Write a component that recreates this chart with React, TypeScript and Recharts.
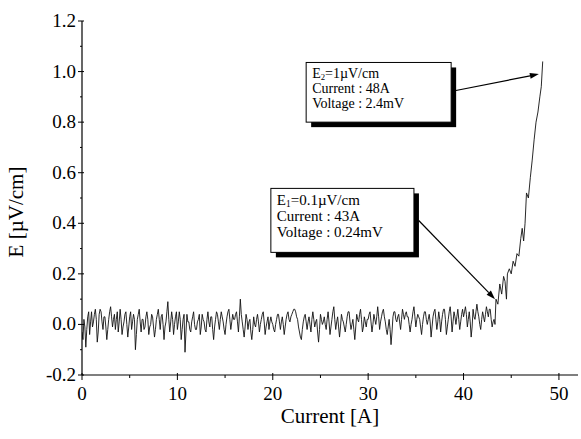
import React from 'react';
import { LineChart, Line, XAxis, YAxis, ReferenceArea, ReferenceLine } from 'recharts';

// Noise baseline: E [µV/cm] sampled every 0.1 A from 0 A
const noiseStartA = 0;
const noiseStepA = 0.1;
const noiseE = [
  -0.03, -0.06, 0.02, -0.01, -0.09, -0.02, 0.03, 0.05, -0.04, 0.01, 0.05, -0.01, 0.01, 0.04, 0.06, 0.02, -0.07, -0.03, 0.04, 0.06,
  0.05, 0.01, -0.02, 0.03, 0.03, -0.01, -0.06, -0.02, 0.02, 0.05, 0.07, 0.03, -0.01, 0.02, 0.04, -0.02, 0.02, 0.05, -0.03, 0.01,
  0.06, 0.02, -0.04, -0.01, 0.01, 0.04, 0.05, 0.0, -0.05, -0.01, 0.03, 0.05, -0.02, 0.01, 0.04, 0.02, -0.1, -0.04, 0.02, 0.04,
  0.06, 0.01, -0.03, 0.02, 0.02, -0.02, -0.01, 0.03, 0.05, 0.02, -0.04, -0.01, 0.0, 0.04, 0.03, -0.01, -0.05, -0.02, 0.02, 0.04,
  0.06, 0.02, -0.02, 0.03, 0.04, 0.0, -0.06, -0.01, 0.01, 0.05, 0.09, 0.02, -0.03, 0.01, 0.05, 0.02, -0.04, 0.0, 0.03, 0.05,
  -0.02, 0.01, 0.05, 0.02, -0.06, -0.02, 0.02, 0.04, -0.11, -0.03, 0.04, 0.01, 0.01, -0.02, -0.03, 0.01, 0.03, 0.05, 0.0, -0.02,
  -0.02, 0.01, 0.02, 0.04, -0.04, -0.01, 0.04, 0.02, 0.01, -0.02, -0.03, 0.02, 0.05, 0.01, -0.01, 0.03, 0.03, -0.02, -0.06, -0.01,
  0.02, 0.05, 0.04, 0.01, -0.02, 0.02, 0.05, 0.03, 0.01, -0.02, -0.04, 0.0, 0.03, 0.05, 0.06, 0.02, -0.02, 0.01, 0.04, 0.02,
  0.02, 0.04, 0.05, 0.01, -0.03, 0.03, 0.1, 0.04, 0.01, -0.02, -0.05, -0.01, 0.04, 0.02, -0.02, 0.01, 0.02, -0.03, -0.06, -0.02,
  0.03, 0.0, -0.01, 0.02, 0.04, 0.01, -0.03, 0.0, 0.02, 0.04, 0.05, 0.01, -0.04, -0.01, 0.01, 0.03, -0.02, 0.01, 0.03, 0.01,
  0.0, -0.02, -0.03, 0.0, 0.02, 0.04, 0.04, 0.01, -0.02, 0.01, 0.03, 0.0, -0.04, -0.01, 0.02, 0.04, 0.05, 0.02, 0.01, 0.03,
  0.04, 0.05, 0.06, 0.06, 0.05, 0.03, 0.02, -0.01, -0.03, -0.05, -0.06, -0.02, 0.01, 0.03, 0.04, 0.01, -0.02, 0.01, 0.03, 0.0,
  -0.03, 0.02, 0.05, 0.02, -0.01, 0.01, 0.02, -0.03, -0.07, -0.02, 0.04, 0.02, 0.0, 0.01, 0.03, 0.0, -0.02, 0.02, 0.05, 0.01,
  -0.04, -0.01, 0.02, 0.05, 0.07, 0.02, -0.02, 0.01, 0.03, -0.01, -0.05, -0.01, 0.04, 0.02, 0.01, -0.01, -0.03, 0.0, 0.03, 0.05,
  0.05, 0.01, -0.02, 0.0, 0.02, -0.02, -0.06, -0.01, 0.04, 0.02, 0.01, 0.04, 0.06, 0.02, -0.03, -0.01, 0.03, 0.01, -0.01, 0.02,
  0.02, 0.04, 0.05, 0.01, -0.03, 0.0, 0.04, 0.02, 0.0, 0.03, 0.07, 0.03, -0.02, 0.01, 0.03, 0.05, 0.06, 0.03, 0.01, -0.02,
  -0.04, -0.01, 0.02, -0.02, -0.08, -0.03, 0.03, 0.05, 0.05, 0.02, 0.01, 0.03, 0.04, 0.01, -0.02, 0.02, 0.06, 0.04, 0.02, 0.04,
  0.05, 0.03, 0.03, 0.0, -0.03, 0.0, 0.02, 0.05, 0.07, 0.03, -0.01, 0.02, 0.04, 0.03, 0.02, -0.01, -0.04, 0.0, 0.03, 0.05,
  0.05, 0.02, 0.0, 0.02, 0.04, 0.01, -0.05, -0.01, 0.03, 0.05, 0.06, 0.02, -0.02, 0.01, 0.05, 0.02, -0.03, 0.01, 0.04, 0.06,
  0.06, 0.02, -0.04, -0.01, 0.02, 0.05, 0.07, 0.03, -0.03, 0.01, 0.05, 0.03, 0.0, 0.03, 0.06, 0.02, -0.02, 0.01, 0.04, 0.06,
  0.03, 0.05, 0.07, 0.04, -0.01, 0.02, 0.05, 0.01, -0.05, -0.01, 0.06, 0.03, 0.02, 0.05, 0.08, 0.05, 0.03, 0.0, -0.02, 0.02,
  0.05, 0.03, 0.01, 0.04, 0.07, 0.05, 0.03, 0.06, 0.06, 0.02, -0.01, 0.01, 0.02,
];

// Transition region
const riseCurrent = [
  43.3, 43.4, 43.6, 43.8, 44.0, 44.2, 44.35, 44.5, 44.6, 44.8,
  45.0, 45.2, 45.4, 45.6, 45.8, 46.0, 46.15, 46.3, 46.45, 46.6,
  46.8, 47.0, 47.2, 47.4, 47.6, 47.8, 48.0, 48.15, 48.3,
];
const riseE = [
  0.0, 0.1, 0.08, 0.16, 0.12, 0.19, 0.17, 0.1, 0.2, 0.22,
  0.2, 0.25, 0.23, 0.28, 0.27, 0.34, 0.38, 0.33, 0.4, 0.52,
  0.5, 0.58, 0.65, 0.73, 0.8, 0.84, 0.9, 0.94, 1.04,
];

const xTicks = [0, 5, 10, 15, 20, 25, 30, 35, 40, 45, 50];
const yTicks = [-0.2, -0.1, 0, 0.1, 0.2, 0.3, 0.4, 0.5, 0.6, 0.7, 0.8, 0.9, 1.0, 1.1, 1.2];
const xDomain = [0, 52];
const yDomain = [-0.2, 1.2];

// Annotation points (Current A, E µV/cm)
const point2 = { x: 47.9, y: 0.99 };
const point1 = { x: 43.3, y: 0.1 };
const box2Lines = { sub: '2', head: '=1µV/cm', current: 'Current : 48A', voltage: 'Voltage : 2.4mV' };
const box1Lines = { sub: '1', head: '=0.1µV/cm', current: 'Current : 43A', voltage: 'Voltage : 0.24mV' };

const data = [
  ...noiseE.map((e, i) => ({ x: +(noiseStartA + i * noiseStepA).toFixed(2), y: e })),
  ...riseCurrent.map((c, i) => ({ x: c, y: riseE[i] })),
];

const FONT = '"Liberation Serif", "Times New Roman", serif';

const isMajorY = (v: number) => Math.round(v * 10) % 2 === 0;
const isMajorX = (v: number) => Math.round(v) % 10 === 0;

const LeftTick = (props: any) => {
  const { x, y, payload } = props;
  const v = payload.value;
  const major = isMajorY(v);
  return (
    <g>
      <line x1={x - (major ? 4 : 2)} x2={x + (major ? 2 : 0)} y1={y} y2={y} stroke="#000" strokeWidth={1} />
      {major && (
        <text x={x - 6} y={y + 6} textAnchor="end" fontSize={19} fontFamily={FONT} fill="#000">
          {v.toFixed(1)}
        </text>
      )}
    </g>
  );
};

const RightTick = (props: any) => {
  const { x, y, payload } = props;
  const major = isMajorY(payload.value);
  return <line x1={x - (major ? 5 : 3)} x2={x} y1={y} y2={y} stroke="#000" strokeWidth={1} />;
};

const BottomTick = (props: any) => {
  const { x, y, payload } = props;
  const v = payload.value;
  const major = isMajorX(v);
  return (
    <g>
      <line x1={x} x2={x} y1={y - (major ? 2 : 0)} y2={y + (major ? 5 : 3)} stroke="#000" strokeWidth={1} />
      {major && (
        <text x={x} y={y + 25} textAnchor="middle" fontSize={19} fontFamily={FONT} fill="#000">
          {String(v)}
        </text>
      )}
    </g>
  );
};

const TopTick = (props: any) => {
  const { x, y, payload } = props;
  const major = isMajorX(payload.value);
  return <line x1={x} x2={x} y1={y} y2={y + (major ? 5 : 3)} stroke="#000" strokeWidth={1} />;
};

const XTitle = (props: any) => {
  const vb = props.viewBox || { x: 82, y: 375, width: 496, height: 64 };
  return (
    <text x={vb.x + vb.width / 2} y={vb.y + 48} textAnchor="middle" fontSize={21} fontFamily={FONT} fill="#000">
      Current [A]
    </text>
  );
};

const YTitle = (props: any) => {
  const vb = props.viewBox || { x: 0, y: 21, width: 82, height: 354 };
  const cx = vb.x + 23;
  const cy = vb.y + vb.height / 2 + 14;
  return (
    <text x={cx} y={cy} transform={`rotate(-90, ${cx}, ${cy})`} textAnchor="middle" fontSize={21} fontFamily={FONT} fill="#000">
      E [µV/cm]
    </text>
  );
};

const makeBox = (lines: any, fontSize: number, lineGap: number) => (props: any) => {
  const { x, y, width, height } = props;
  const tx = x + 6;
  const ty = y + fontSize + 2;
  return (
    <g>
      <rect x={x + 5} y={y + 5} width={width} height={height} fill="#000" />
      <rect x={x} y={y} width={width} height={height} fill="#fff" stroke="#000" strokeWidth={1} />
      <text x={tx} y={ty} fontSize={fontSize} fontFamily={FONT} fill="#000">
        E<tspan fontSize={fontSize * 0.62} dy={2}>{lines.sub}</tspan>
        <tspan dy={-2}>{lines.head}</tspan>
      </text>
      <text x={tx} y={ty + lineGap} fontSize={fontSize} fontFamily={FONT} fill="#000">
        {lines.current}
      </text>
      <text x={tx} y={ty + lineGap * 2} fontSize={fontSize} fontFamily={FONT} fill="#000">
        {lines.voltage}
      </text>
    </g>
  );
};

const Arrow = (props: any) => {
  const { x1, y1, x2, y2 } = props;
  const dx = x2 - x1;
  const dy = y2 - y1;
  const len = Math.sqrt(dx * dx + dy * dy) || 1;
  const ux = dx / len;
  const uy = dy / len;
  const hl = 9;
  const hw = 3;
  const bx = x2 - ux * hl;
  const by = y2 - uy * hl;
  return (
    <g>
      <line x1={x1} y1={y1} x2={bx} y2={by} stroke="#000" strokeWidth={1.2} />
      <polygon
        points={`${x2},${y2} ${bx - uy * hw},${by + ux * hw} ${bx + uy * hw},${by - ux * hw}`}
        fill="#000"
      />
    </g>
  );
};

const BoxTop = makeBox(box2Lines, 14, 15);
const BoxBottom = makeBox(box1Lines, 15, 16);

export default function App() {
  return (
    <div style={{ position: 'absolute', left: 0, top: 0, background: '#fff' }}>
      <LineChart width={581} height={439} data={data} margin={{ top: 21, right: 3, bottom: 0, left: 0 }}>
        <XAxis
          dataKey="x"
          type="number"
          domain={xDomain}
          ticks={xTicks}
          allowDataOverflow
          height={64}
          tickSize={0}
          tickMargin={0}
          tickLine={false}
          axisLine={{ stroke: '#000', strokeWidth: 1.2 }}
          tick={<BottomTick />}
          interval={0}
          label={<XTitle />}
        />
        <XAxis
          xAxisId="top"
          orientation="top"
          type="number"
          domain={xDomain}
          ticks={xTicks}
          allowDataOverflow
          height={0}
          tickSize={0}
          tickMargin={0}
          tickLine={false}
          axisLine={{ stroke: '#000', strokeWidth: 1.2 }}
          tick={<TopTick />}
          interval={0}
        />
        <YAxis
          type="number"
          domain={yDomain}
          ticks={yTicks}
          allowDataOverflow
          width={82}
          tickSize={0}
          tickMargin={0}
          tickLine={false}
          axisLine={{ stroke: '#000', strokeWidth: 1.2 }}
          tick={<LeftTick />}
          interval={0}
          label={<YTitle />}
        />
        <YAxis
          yAxisId="right"
          orientation="right"
          type="number"
          domain={yDomain}
          ticks={yTicks}
          allowDataOverflow
          width={0}
          tickSize={0}
          tickMargin={0}
          tickLine={false}
          axisLine={{ stroke: '#000', strokeWidth: 1.2 }}
          tick={<RightTick />}
          interval={0}
        />
        <ReferenceArea x1={23.5} x2={38.7} y1={0.8} y2={1.036} shape={BoxTop} ifOverflow="visible" />
        <ReferenceArea x1={19.8} x2={34.8} y1={0.285} y2={0.538} shape={BoxBottom} ifOverflow="visible" />
        <ReferenceLine segment={[{ x: 39.2, y: 0.925 }, point2]} shape={Arrow} ifOverflow="visible" />
        <ReferenceLine segment={[{ x: 35.3, y: 0.411 }, point1]} shape={Arrow} ifOverflow="visible" />
        <Line
          type="linear"
          dataKey="y"
          stroke="#111"
          strokeWidth={0.9}
          dot={false}
          isAnimationActive={false}
        />
      </LineChart>
    </div>
  );
}
